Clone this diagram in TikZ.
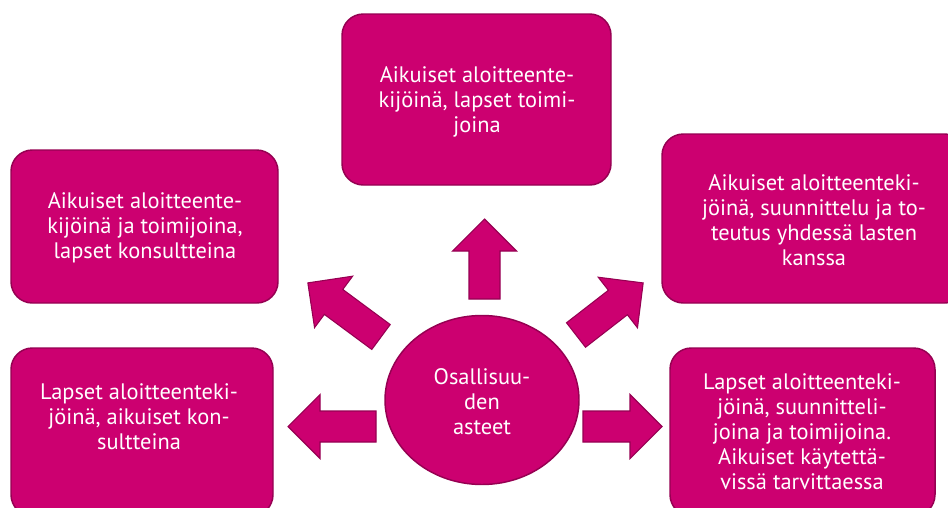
\documentclass[tikz,border=0pt]{standalone}
\usepackage{fontspec}
\setmainfont{PT Sans}
\usetikzlibrary{shapes.geometric}
\definecolor{mag}{RGB}{204,0,112}
\definecolor{magdark}{RGB}{150,0,82}
\newcommand\blockarr[4]{%
  \filldraw[arrowshape, shift={(#1,#2)}, rotate=#3]
    (0,-15.5) -- (#4-32,-15.5) -- (#4-32,-32) -- (#4,0) -- (#4-32,32) -- (#4-32,15.5) -- (0,15.5) -- cycle;}
\tikzset{
  box/.style={draw=magdark, fill=mag, line width=1.1pt, rounded corners=16pt, inner sep=0pt},
  txt/.style={text=white, align=center, inner sep=0pt, font=\fontsize{16.8}{18.75}\selectfont},
  arrowshape/.style={draw=magdark, fill=mag, line width=0.8pt},
}
\begin{document}
\begin{tikzpicture}[x=0.75pt, y=-0.75pt]
\useasboundingbox (0,0) rectangle (948,507);
\clip (0,0) rectangle (948,507);
\fill[white] (0,0) rectangle (948,507);
% boxes
\node[box, minimum width=201.75pt, minimum height=128.25pt] (btop) at (476.5,99.5) {};
\node[box, minimum width=200.25pt, minimum height=114.75pt] (bul) at (144.5,226.5) {};
\node[box, minimum width=228pt, minimum height=126.75pt] (bur) at (814,218.5) {};
\node[box, minimum width=196.5pt, minimum height=126pt] (bll) at (142,432) {};
\node[box, minimum width=198.75pt, minimum height=126pt] (blr) at (802.5,432) {};
% texts
\node[txt] (ttop) at (477,102) {Aikuiset aloitteente-\\kijöinä, lapset toimi-\\joina};
\node[txt] (tul) at (145,228) {Aikuiset aloitteente-\\kijöinä ja toimijoina,\\lapset konsultteina};
\node[txt] (tur) at (814,220) {Aikuiset aloitteenteki-\\jöinä, suunnittelu ja to-\\teutus yhdessä lasten\\kanssa};
\node[txt] (tll) at (139,417) {Lapset aloitteenteki-\\jöinä, aikuiset kon-\\sultteina};
\node[txt] (tlr) at (802,432) {Lapset aloitteenteki-\\jöinä, suunnitteli-\\joina ja toimijoina.\\Aikuiset käytettä-\\vissä tarvittaessa};
% centre ellipse
\node[ellipse, draw=magdark, fill=mag, line width=1.1pt, minimum width=145.5pt, minimum height=126.75pt, inner sep=0pt] (centre) at (482,400) {};
\node[txt] (tc) at (482,402) {Osallisuu-\\den\\asteet};
% block arrows
\blockarr{484.5}{299}{90}{80}
\blockarr{376}{426.5}{180}{88}
\blockarr{583}{426.5}{0}{79}
\blockarr{381}{337}{143.5}{91}
\blockarr{576}{335}{37.8}{85}
\end{tikzpicture}
\end{document}
